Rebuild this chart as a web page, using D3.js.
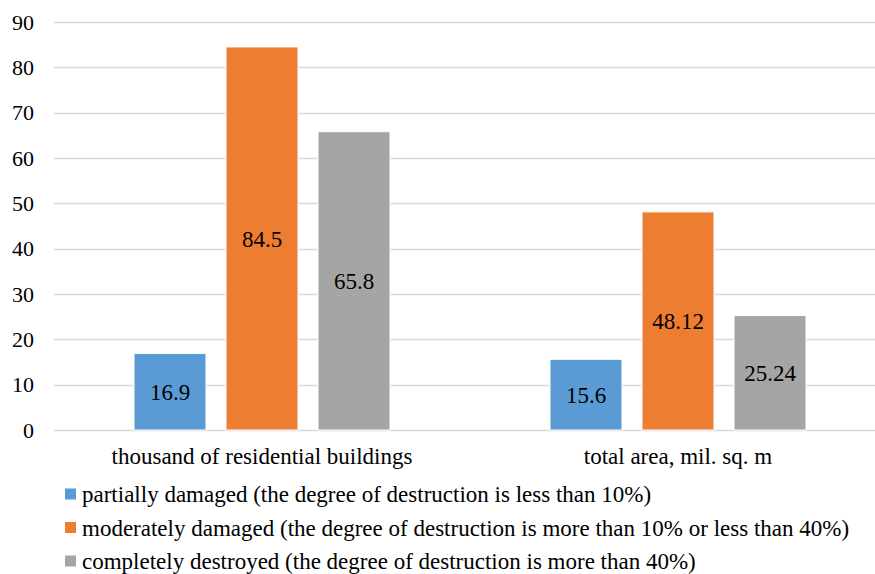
<!DOCTYPE html>
<html>
<head>
<meta charset="utf-8">
<script src="https://cdn.jsdelivr.net/npm/d3@7"></script>
<style>
  body { margin: 0; background: #fff; }
</style>
</head>
<body>
<div id="chart"></div>
<script>
let W = 875;
let H = 574;
let FONT = "'Liberation Serif', 'Times New Roman', Tinos, 'DejaVu Serif', serif";

// Data
let categories = ['thousand of residential buildings', 'total area, mil. sq. m'];
let seriesNames = [
  'partially damaged (the degree of destruction is less than 10%)',
  'moderately damaged (the degree of destruction is more than 10% or less than 40%)',
  'completely destroyed (the degree of destruction is more than 40%)'
];
let partially = [16.9, 15.6];
let moderately = [84.5, 48.12];
let destroyed = [65.8, 25.24];
let valueLabels = [['16.9', '15.6'], ['84.5', '48.12'], ['65.8', '25.24']];
let yTicks = [0, 10, 20, 30, 40, 50, 60, 70, 80, 90];
let colors = ['#5B9BD5', '#ED7D31', '#A5A5A5'];

let seriesValues = [partially, moderately, destroyed];

let svg = d3.select('#chart').append('svg').attr('width', W).attr('height', H)
    .attr('font-family', FONT).style('font-family', FONT);

// Scales
let x0 = d3.scaleBand().domain(categories).range([54, 886]).paddingInner(0).paddingOuter(0);
let x1 = d3.scaleBand().domain([0, 1, 2]).range([80, 416 - 80]).paddingInner(20 / 92).paddingOuter(0);
let y = d3.scaleLinear().domain([0, 90]).range([430, 22]);

// Gridlines
svg.append('g').selectAll('line').data(yTicks).enter().append('line')
    .attr('x1', 54).attr('x2', W)
    .attr('y1', d => Math.round(y(d)) + 0.5).attr('y2', d => Math.round(y(d)) + 0.5)
    .attr('stroke', '#d9d9d9').attr('stroke-width', 1.5);

// Y tick labels
svg.append('g').selectAll('text').data(yTicks).enter().append('text')
    .attr('x', 34).attr('y', d => y(d)).attr('dy', '0.35em')
    .attr('text-anchor', 'end').style('font-size', '22px').style('font-family', FONT)
    .text(d => d);

// Bars
let rows = [];
seriesValues.forEach((vals, s) => {
  vals.forEach((v, c) => rows.push({ s: s, c: c, v: v, label: valueLabels[s][c] }));
});

svg.append('g').selectAll('rect').data(rows).enter().append('rect')
    .attr('x', d => x0(categories[d.c]) + x1(d.s))
    .attr('width', x1.bandwidth())
    .attr('y', d => y(d.v))
    .attr('height', d => y(0) - y(d.v))
    .attr('fill', d => colors[d.s])
    .attr('stroke', '#fff').attr('stroke-width', 1);

// Value labels
svg.append('g').selectAll('text').data(rows).enter().append('text')
    .attr('x', d => x0(categories[d.c]) + x1(d.s) + x1.bandwidth() / 2)
    .attr('y', d => (y(d.v) + y(0)) / 2)
    .attr('dy', '0.35em')
    .attr('text-anchor', 'middle').style('font-size', '23px').style('font-family', FONT)
    .text(d => d.label);

// Category labels
svg.append('g').selectAll('text').data(categories).enter().append('text')
    .attr('x', d => x0(d) + x0.bandwidth() / 2)
    .attr('y', 464)
    .attr('text-anchor', 'middle').style('font-size', '23px').style('font-family', FONT)
    .text(d => d);

// Legend
let legend = svg.append('g').selectAll('g').data(seriesNames).enter().append('g')
    .attr('transform', (d, i) => `translate(65, ${494 + i * 33.5})`);
legend.append('rect')
    .attr('x', 0).attr('y', -5.5).attr('width', 11).attr('height', 11)
    .attr('fill', (d, i) => colors[i]);
legend.append('text')
    .attr('x', 17).attr('y', 0).attr('dy', '0.35em')
    .style('font-size', '23px').style('font-family', FONT)
    .text(d => d);
</script>
</body>
</html>
